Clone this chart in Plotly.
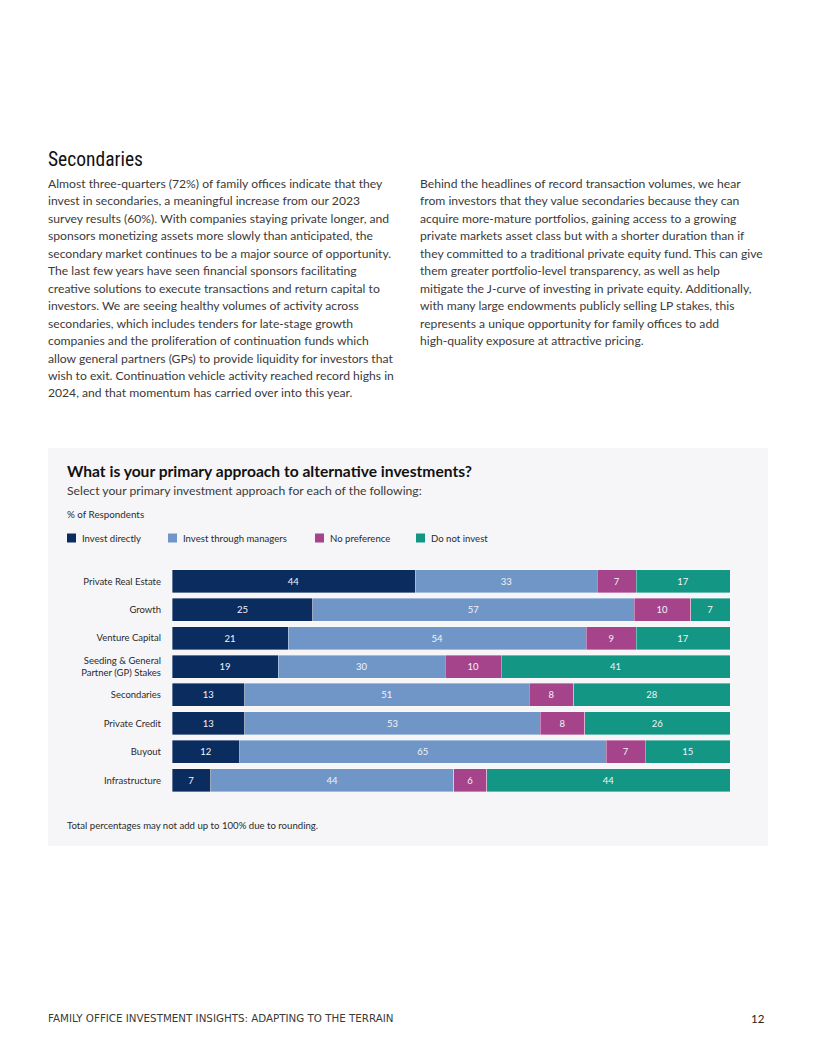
import plotly.graph_objects as go

PAGE_OFF = 8          # default body margin of the html page
W, H = 800, 1040      # figure size so that page = figure + margins

categories = ["Private Real Estate", "Growth", "Venture Capital",
              "Seeding & General<br>Partner (GP) Stakes", "Secondaries",
              "Private Credit", "Buyout", "Infrastructure"]
series_names = ["Invest directly", "Invest through managers", "No preference", "Do not invest"]
invest_directly = [44, 25, 21, 19, 13, 13, 12, 7]
through_managers = [33, 57, 54, 30, 51, 53, 65, 44]
no_preference = [7, 10, 9, 10, 8, 8, 7, 6]
do_not_invest = [17, 7, 17, 41, 28, 26, 15, 44]
colors = ["#0b2c5f", "#7096c7", "#a5438b", "#149685"]

left_text = [
    "Almost three-quarters (72%) of family offices indicate that they",
    "invest in secondaries, a meaningful increase from our 2023",
    "survey results (60%). With companies staying private longer, and",
    "sponsors monetizing assets more slowly than anticipated, the",
    "secondary market continues to be a major source of opportunity.",
    "The last few years have seen financial sponsors facilitating",
    "creative solutions to execute transactions and return capital to",
    "investors. We are seeing healthy volumes of activity across",
    "secondaries, which includes tenders for late-stage growth",
    "companies and the proliferation of continuation funds which",
    "allow general partners (GPs) to provide liquidity for investors that",
    "wish to exit. Continuation vehicle activity reached record highs in",
    "2024, and that momentum has carried over into this year.",
]
right_text = [
    "Behind the headlines of record transaction volumes, we hear",
    "from investors that they value secondaries because they can",
    "acquire more-mature portfolios, gaining access to a growing",
    "private markets asset class but with a shorter duration than if",
    "they committed to a traditional private equity fund. This can give",
    "them greater portfolio-level transparency, as well as help",
    "mitigate the J-curve of investing in private equity. Additionally,",
    "with many large endowments publicly selling LP stakes, this",
    "represents a unique opportunity for family offices to add",
    "high-quality exposure at attractive pricing.",
]

BODY = "Lato, 'Open Sans', sans-serif"
TXT = "#3a3a3a"


def px(x):
    return (x - PAGE_OFF) / W


def py(y):
    return 1 - (y - PAGE_OFF) / H


fig = go.Figure()
all_vals = [invest_directly, through_managers, no_preference, do_not_invest]
for name, vals, col in zip(series_names, all_vals, colors):
    fig.add_trace(go.Bar(
        y=categories, x=vals, name=name, orientation="h",
        marker=dict(color=col, line=dict(color="rgba(255,255,255,0.45)", width=0.8)),
        text=vals, texttemplate="%{text}", textposition="inside",
        insidetextanchor="middle", textangle=0,
        textfont=dict(color="#f2f4f8", size=9.5, family=BODY),
        showlegend=False,
    ))

shapes = [dict(type="rect", xref="paper", yref="paper", x0=px(48), x1=px(768),
               y0=py(846), y1=py(448), fillcolor="#f6f6f8", line=dict(width=0), layer="below")]
ann = []


def text(x, y, s, size, color=TXT, family=BODY, xanchor="left", bold=False):
    ann.append(dict(xref="paper", yref="paper", x=px(x), y=py(y), text=("<b>%s</b>" % s) if bold else s,
                    showarrow=False, xanchor=xanchor, yanchor="middle",
                    font=dict(size=size, color=color, family=family)))


text(46, 159, "Secondaries", 19.5, color="#111111",
     family="'Liberation Sans Narrow', 'Roboto Condensed', Roboto, sans-serif")
for i, line in enumerate(left_text):
    text(46, 183.5 + i * 17.45, line, 12.15)
for i, line in enumerate(right_text):
    text(418, 183.5 + i * 17.45, line, 12.15)

text(65, 471, "What is your primary approach to alternative investments?", 15.6, color="#111111", bold=True)
text(65, 490, "Select your primary investment approach for each of the following:", 12.2, color="#3a3a3a")
text(65, 514, "% of Respondents", 9.8, color="#2a2a2a")

legend_x = [67, 168, 315, 416]
for lx, name, col in zip(legend_x, series_names, colors):
    shapes.append(dict(type="rect", xref="paper", yref="paper", x0=px(lx), x1=px(lx + 9),
                       y0=py(542.5), y1=py(533.5), fillcolor=col, line=dict(width=0)))
    text(lx + 12.5, 538, name, 9.6, color="#2a2a2a")

text(65, 825, "Total percentages may not add up to 100% due to rounding.", 9.6, color="#2a2a2a")
text(46, 1018, "FAMILY OFFICE INVESTMENT INSIGHTS: ADAPTING TO THE TERRAIN", 10.3, color="#3a3a3a",
     family="'DejaVu Sans', sans-serif")
text(767, 1018, "12", 11.5, color="#222222", xanchor="right")

fig.update_layout(
    width=W, height=H, margin=dict(l=0, r=0, t=0, b=0),
    paper_bgcolor="white", plot_bgcolor="rgba(0,0,0,0)",
    barmode="stack", barnorm="percent", bargap=0.19,
    shapes=shapes, annotations=ann,
    xaxis=dict(domain=[px(172), px(730)], range=[0, 100], visible=False, fixedrange=True),
    yaxis=dict(domain=[py(794.5), py(567)], autorange="reversed", showgrid=False,
               ticks="", showline=False, ticklabelstandoff=10,
               tickfont=dict(size=9.5, color="#2a2a2a", family=BODY)),
    font=dict(family=BODY),
)
fig.write_html("out.html")
